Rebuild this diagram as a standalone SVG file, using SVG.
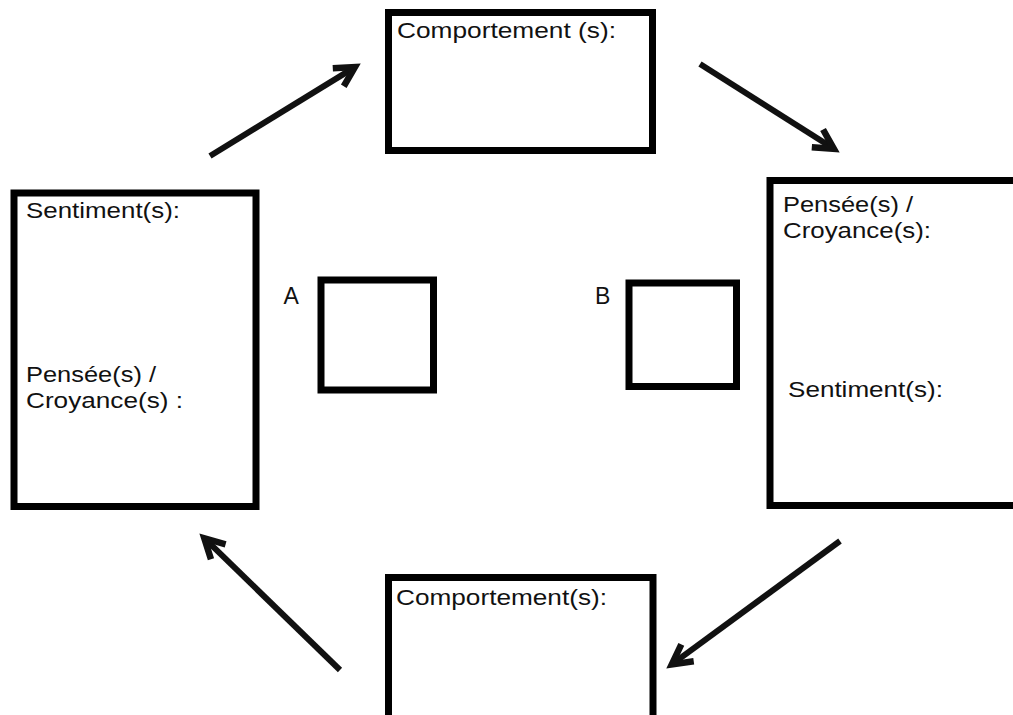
<svg xmlns="http://www.w3.org/2000/svg" width="1013" height="715" viewBox="0 0 1013 715">
<style>
.box{fill:#fff;stroke:#000;stroke-width:7}
.lbl{font-family:"Liberation Sans",Arial,sans-serif;font-size:22.5px;fill:#111}
.sm{font-family:"Liberation Sans",Arial,sans-serif;font-size:23px;fill:#111}
.arr{stroke:#111;stroke-width:6;fill:none;marker-end:url(#head)}
</style>
<defs>
<marker id="head" markerUnits="userSpaceOnUse" markerWidth="40" markerHeight="40" viewBox="-30 -20 40 40" refX="0" refY="0" orient="auto" overflow="visible">
<path d="M-19.5,-10.5 L0,0 L-19.5,10.5" fill="none" stroke="#111" stroke-width="6.5" stroke-linejoin="miter" stroke-miterlimit="10"/>
</marker>
</defs>
<rect width="1013" height="715" fill="#fff"/>
<g id="top-box">
<rect class="box" x="388.5" y="12.5" width="264" height="138"/>
<text class="lbl" x="397" y="38" textLength="219" lengthAdjust="spacingAndGlyphs">Comportement (s):</text>
</g>
<g id="left-box">
<rect class="box" x="14" y="193" width="242" height="313.5"/>
<text class="lbl" x="26" y="218" textLength="154" lengthAdjust="spacingAndGlyphs">Sentiment(s):</text>
<text class="lbl"><tspan x="26" y="382" textLength="130" lengthAdjust="spacingAndGlyphs">Pensée(s) /</tspan><tspan x="26" y="407.5" textLength="157" lengthAdjust="spacingAndGlyphs">Croyance(s) :</tspan></text>
</g>
<g id="right-box">
<rect class="box" x="770" y="180.5" width="260" height="325"/>
<text class="lbl"><tspan x="783" y="212" textLength="130" lengthAdjust="spacingAndGlyphs">Pensée(s) /</tspan><tspan x="783" y="237.5" textLength="148" lengthAdjust="spacingAndGlyphs">Croyance(s):</tspan></text>
<text class="lbl" x="788" y="397" textLength="155" lengthAdjust="spacingAndGlyphs">Sentiment(s):</text>
</g>
<g id="bottom-box">
<rect class="box" x="388.5" y="577.5" width="264.5" height="160"/>
<text class="lbl" x="396" y="605" textLength="211" lengthAdjust="spacingAndGlyphs">Comportement(s):</text>
</g>
<g id="box-a">
<rect class="box" x="321" y="280" width="112.5" height="110"/>
<text class="sm" x="283.5" y="304">A</text>
</g>
<g id="box-b">
<rect class="box" x="629" y="283" width="107.5" height="103.5"/>
<text class="sm" x="595" y="304">B</text>
</g>
<g id="connectors">
<line class="arr" x1="210" y1="156" x2="354.9" y2="67.1"/>
<line class="arr" x1="700" y1="64" x2="833.9" y2="148.8"/>
<line class="arr" x1="840" y1="541" x2="671.8" y2="664.4"/>
<line class="arr" x1="340" y1="670" x2="204.3" y2="538.2"/>
</g>
</svg>
